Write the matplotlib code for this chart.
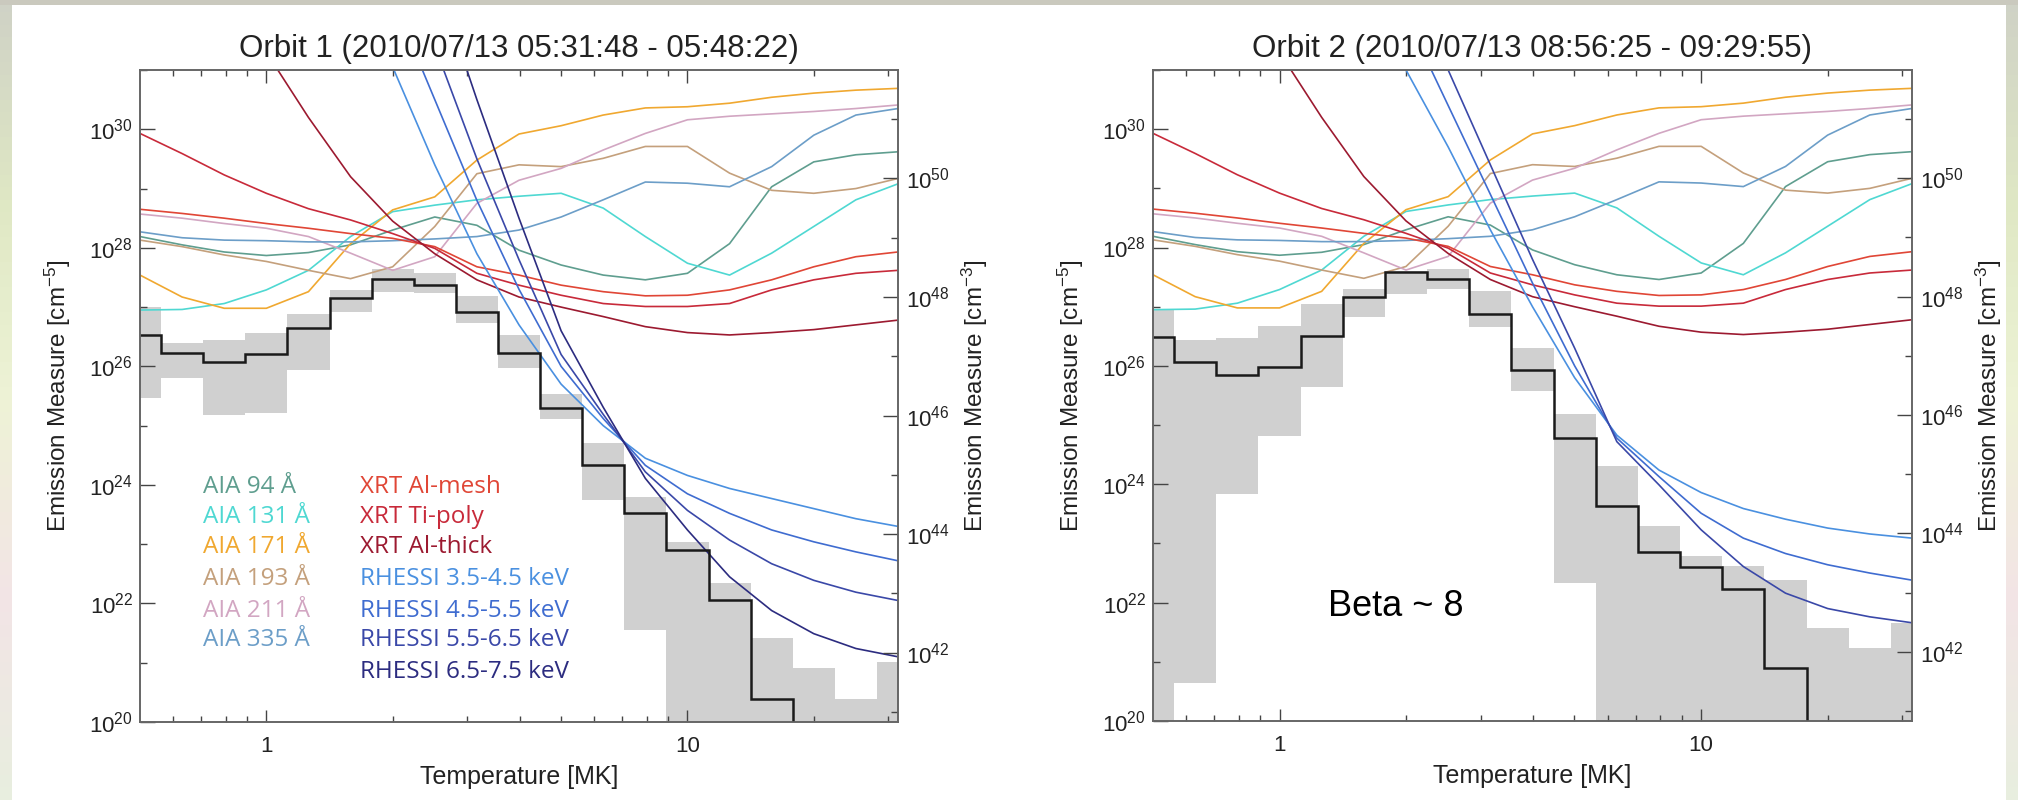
import numpy as np
import matplotlib
matplotlib.use("Agg")
import matplotlib.pyplot as plt
from matplotlib.ticker import FixedLocator, FuncFormatter, NullFormatter
from matplotlib.patches import Rectangle
from matplotlib.colors import LinearSegmentedColormap

plt.rcParams['font.family'] = ['Liberation Sans', 'DejaVu Sans']
plt.rcParams['mathtext.default'] = 'regular'

# temperature grid, log10(T [K])
log_t = [5.7, 5.8, 5.9, 6.0, 6.1, 6.2, 6.3, 6.4, 6.5, 6.6,
         6.7, 6.8, 6.9, 7.0, 7.1, 7.2, 7.3, 7.4, 7.5]

# DEM solution per bin, log10 EM [cm^-5] (19 = below plot floor)
dem_orbit1 = [26.53, 26.22, 26.08, 26.21, 26.64, 27.15, 27.47, 27.37, 26.92, 26.22,
              25.29, 24.33, 23.52, 22.91, 22.05, 20.38, 19.0, 19.0, 19.0]
dem_hi_orbit1 = [27.00, 26.39, 26.44, 26.57, 26.89, 27.28, 27.64, 27.57, 27.19, 26.53,
                 25.54, 24.70, 23.79, 23.04, 22.35, 21.41, 20.91, 20.39, 21.02]
dem_lo_orbit1 = [25.46, 25.81, 25.18, 25.21, 25.94, 26.92, 27.26, 27.23, 26.73, 25.97,
                 25.12, 23.75, 21.56, 19.0, 19.0, 19.0, 19.0, 19.0, 19.0]

dem_orbit2 = [26.49, 26.06, 25.85, 25.98, 26.51, 27.16, 27.58, 27.47, 26.87, 25.93,
              24.78, 23.63, 22.86, 22.61, 22.23, 20.90, 19.0, 19.0, 19.0]
dem_hi_orbit2 = [26.96, 26.44, 26.47, 26.68, 27.04, 27.30, 27.61, 27.63, 27.27, 26.30,
                 25.19, 24.31, 23.30, 22.78, 22.62, 22.38, 21.57, 21.23, 21.66]
dem_lo_orbit2 = [19.0, 20.64, 23.83, 24.82, 25.65, 26.82, 27.22, 27.30, 26.66, 25.57,
                 22.34, 19.0, 19.0, 19.0, 19.0, 19.0, 19.0, 19.0, 19.0]

# EM loci curves, log10 EM [cm^-5]
aia94 = [28.19, 28.05, 27.93, 27.87, 27.92, 28.05, 28.30, 28.52, 28.38, 27.96,
         27.71, 27.54, 27.46, 27.57, 28.07, 29.03, 29.45, 29.57, 29.62]
aia131 = [26.95, 26.96, 27.06, 27.29, 27.62, 28.19, 28.61, 28.72, 28.81, 28.87,
          28.92, 28.67, 28.19, 27.74, 27.54, 27.91, 28.36, 28.81, 29.08]
aia171 = [27.54, 27.17, 26.98, 26.98, 27.26, 28.07, 28.64, 28.86, 29.48, 29.92,
          30.06, 30.24, 30.36, 30.38, 30.44, 30.54, 30.61, 30.66, 30.69]
aia193 = [28.13, 28.02, 27.88, 27.77, 27.62, 27.48, 27.68, 28.36, 29.25, 29.40,
          29.37, 29.51, 29.71, 29.71, 29.26, 28.97, 28.92, 29.00, 29.17]
aia211 = [28.57, 28.50, 28.41, 28.33, 28.19, 27.91, 27.62, 27.85, 28.75, 29.14,
          29.34, 29.65, 29.93, 30.16, 30.22, 30.26, 30.30, 30.35, 30.41]
aia335 = [28.27, 28.17, 28.13, 28.12, 28.10, 28.10, 28.12, 28.15, 28.19, 28.30,
          28.52, 28.81, 29.11, 29.09, 29.03, 29.37, 29.90, 30.24, 30.35]

xrt_al_mesh = [28.65, 28.58, 28.50, 28.41, 28.33, 28.24, 28.16, 28.02, 27.68, 27.54,
               27.37, 27.26, 27.19, 27.20, 27.29, 27.46, 27.68, 27.85, 27.93]
xrt_ti_poly = [29.93, 29.59, 29.23, 28.92, 28.66, 28.47, 28.24, 27.99, 27.57, 27.37,
               27.20, 27.06, 27.01, 27.01, 27.06, 27.29, 27.46, 27.57, 27.62]
xrt_al_thick = [35.0, 33.8, 32.5, 31.3, 30.2, 29.2, 28.45, 27.90, 27.46, 27.17,
                27.00, 26.84, 26.67, 26.57, 26.53, 26.57, 26.62, 26.70, 26.78]

rhessi_orbit1 = [
    [40.0, 38.5, 37.0, 35.5, 34.0, 32.6, 31.05, 29.4, 27.9, 26.7,
     25.7, 25.00, 24.45, 24.16, 23.94, 23.77, 23.60, 23.43, 23.30],
    [42.0, 40.5, 39.0, 37.5, 35.8, 34.0, 32.2, 30.5, 28.8, 27.3,
     26.0, 25.12, 24.33, 23.85, 23.52, 23.24, 23.04, 22.87, 22.72],
    [46.0, 44.0, 42.0, 39.8, 37.7, 35.6, 33.5, 31.4, 29.5, 27.8,
     26.2, 25.19, 24.22, 23.57, 23.07, 22.67, 22.39, 22.19, 22.05],
    [48.0, 46.0, 44.0, 41.8, 39.5, 37.2, 34.9, 32.6, 30.5, 28.5,
     26.6, 25.31, 24.11, 23.24, 22.45, 21.88, 21.49, 21.24, 21.10],
]
rhessi_orbit2 = [
    [39.4, 38.0, 36.6, 35.2, 33.8, 32.4, 31.0, 29.7, 28.3, 27.0,
     25.8, 24.83, 24.24, 23.86, 23.59, 23.41, 23.26, 23.16, 23.09],
    [41.6, 40.0, 38.3, 36.7, 35.1, 33.5, 31.9, 30.4, 28.9, 27.4,
     26.0, 24.78, 24.13, 23.51, 23.09, 22.83, 22.64, 22.50, 22.38],
    [44.2, 42.3, 40.4, 38.5, 36.6, 34.7, 32.8, 31.0, 29.4, 27.8,
     26.3, 24.72, 23.99, 23.23, 22.61, 22.16, 21.90, 21.76, 21.66],
]

aia_names = ['AIA 94 Å', 'AIA 131 Å', 'AIA 171 Å', 'AIA 193 Å', 'AIA 211 Å', 'AIA 335 Å']
aia_colors = ['#5f9e8f', '#4fd8d2', '#f0a830', '#c4a07c', '#d2a6c2', '#6c9ec8']
xrt_names = ['XRT Al-mesh', 'XRT Ti-poly', 'XRT Al-thick']
xrt_colors = ['#e04636', '#c82a3a', '#9c1a30']
rhessi_names = ['RHESSI 3.5-4.5 keV', 'RHESSI 4.5-5.5 keV',
                'RHESSI 5.5-6.5 keV', 'RHESSI 6.5-7.5 keV']
rhessi_colors = ['#4a90e0', '#3f6cd0', '#3a48a8', '#2c2c80']

titles = ['Orbit 1 (2010/07/13 05:31:48 - 05:48:22)',
          'Orbit 2 (2010/07/13 08:56:25 - 09:29:55)']

# EM [cm^-3] = EM [cm^-5] * area
log_area = 20.83

lt = np.array(log_t)
t_mk = 10 ** (lt - 6)
edges = 10 ** (np.concatenate([[lt[0]], (lt[:-1] + lt[1:]) / 2, [lt[-1]]]) - 6)

TXT = '#222222'
SPINE = '#666666'


def em(v):
    return 10 ** np.array(v)


def sup(v, pos):
    return r'$\mathdefault{10^{%d}}$' % round(np.log10(v))


def panel(ax, dem, hi, lo, rhessi, rh_colors, title):
    ax.stairs(em(hi), edges, baseline=em(lo), fill=True, color='#d0d0d0', lw=0, zorder=1)
    for vals, c in zip([aia94, aia131, aia171, aia193, aia211, aia335], aia_colors):
        ax.plot(t_mk, em(vals), color=c, lw=1.2, zorder=2)
    for vals, c in zip([xrt_al_mesh, xrt_ti_poly, xrt_al_thick], xrt_colors):
        ax.plot(t_mk, em(vals), color=c, lw=1.2, zorder=2)
    for vals, c in zip(rhessi, rh_colors):
        ax.plot(t_mk, em(vals), color=c, lw=1.2, zorder=2)
    ax.stairs(em(dem), edges, baseline=None, color='#1a1a1a', lw=1.8, zorder=3)

    ax.set_xscale('log')
    ax.set_yscale('log')
    ax.set_xlim(10 ** -0.3, 10 ** 1.5)
    ax.set_ylim(1e20, 1e31)
    ax.xaxis.set_major_locator(FixedLocator([1, 10]))
    ax.xaxis.set_minor_locator(FixedLocator([0.6, 0.7, 0.8, 0.9, 2, 3, 4, 5, 6, 7, 8, 9, 20, 30]))
    ax.xaxis.set_major_formatter(FuncFormatter(lambda v, p: '%d' % v))
    ax.xaxis.set_minor_formatter(NullFormatter())
    ax.yaxis.set_major_locator(FixedLocator(10.0 ** np.arange(20, 32, 2)))
    ax.yaxis.set_minor_locator(FixedLocator(10.0 ** np.arange(21, 32, 2)))
    ax.yaxis.set_major_formatter(FuncFormatter(sup))
    ax.yaxis.set_minor_formatter(NullFormatter())
    ax.tick_params(axis='both', which='both', direction='in', color='#444444',
                   width=1.0, labelsize=16, labelcolor=TXT)
    ax.tick_params(axis='x', which='major', length=9, pad=10, top=True)
    ax.tick_params(axis='x', which='minor', length=4.5, top=True)
    ax.tick_params(axis='y', which='major', length=11, pad=5, right=False)
    ax.tick_params(axis='y', which='minor', length=5, right=False)
    for s in ax.spines.values():
        s.set_color(SPINE)
        s.set_linewidth(1.2)
    ax.set_xlabel('Temperature [MK]', fontsize=18, labelpad=6, color=TXT)
    ax.set_ylabel('Emission Measure [cm$^{-5}$]', fontsize=17.5, labelpad=12, color=TXT)
    ax.set_title(title, fontsize=22.5, pad=9, color=TXT)

    axr = ax.twinx()
    axr.set_yscale('log')
    axr.set_ylim(10 ** (20 + log_area), 10 ** (31 + log_area))
    axr.yaxis.set_major_locator(FixedLocator(10.0 ** np.arange(42, 52, 2)))
    axr.yaxis.set_minor_locator(FixedLocator(10.0 ** np.arange(41, 52, 2)))
    axr.yaxis.set_major_formatter(FuncFormatter(sup))
    axr.yaxis.set_minor_formatter(NullFormatter())
    axr.tick_params(axis='y', which='both', direction='in', color='#444444',
                    width=1.0, labelsize=16, labelcolor=TXT)
    axr.tick_params(axis='y', which='major', length=11, pad=6)
    axr.tick_params(axis='y', which='minor', length=5)
    for s in axr.spines.values():
        s.set_color(SPINE)
        s.set_linewidth(1.2)
    axr.set_ylabel('Emission Measure [cm$^{-3}$]', fontsize=17.5, labelpad=7, color=TXT)
    return ax


fig = plt.figure(figsize=(20.18, 8), dpi=100)

# soft coloured border around the white sheet
bg = fig.add_axes([0, 0, 1, 1], zorder=-10)
bg.set_xlim(0, 2018)
bg.set_ylim(800, 0)
bg.axis('off')
border = LinearSegmentedColormap.from_list(
    'border', ['#cfd2c6', '#dfe8c4', '#eef3d6', '#f3e4e6', '#e8eedf'])
bg.imshow(np.linspace(0, 1, 64).reshape(-1, 1), cmap=border, aspect='auto',
          extent=(0, 2018, 800, 0))
bg.add_patch(Rectangle((0, 0), 2018, 5, facecolor='#c9c7bd', edgecolor='none', alpha=0.8))
bg.add_patch(Rectangle((12, 5), 1994, 795, facecolor='white', edgecolor='none'))

ax1 = fig.add_axes([140 / 2018, 78 / 800, 758 / 2018, 652 / 800])
ax2 = fig.add_axes([1153 / 2018, 79 / 800, 759 / 2018, 651 / 800])

panel(ax1, dem_orbit1, dem_hi_orbit1, dem_lo_orbit1, rhessi_orbit1, rhessi_colors, titles[0])
panel(ax2, dem_orbit2, dem_hi_orbit2, dem_lo_orbit2, rhessi_orbit2, rhessi_colors[:3], titles[1])

# channel key, two columns inside the first panel
rows = [0.360, 0.314, 0.268, 0.220, 0.171, 0.126, 0.077]
for name, c, y in zip(aia_names, aia_colors, rows):
    ax1.text(0.083, y, name, transform=ax1.transAxes, color=c, fontsize=17.5,
             family=['Open Sans', 'DejaVu Sans'], va='center', ha='left')
for name, c, y in zip(xrt_names + rhessi_names, xrt_colors + rhessi_colors, rows):
    ax1.text(0.290, y, name, transform=ax1.transAxes, color=c, fontsize=17.5,
             family=['Open Sans', 'DejaVu Sans'], va='center', ha='left')

ax2.text(1.89, 8.5e21, 'Beta ~ 8', fontsize=26, ha='center', va='center', color='black')

fig.savefig('out.png', dpi=100)
